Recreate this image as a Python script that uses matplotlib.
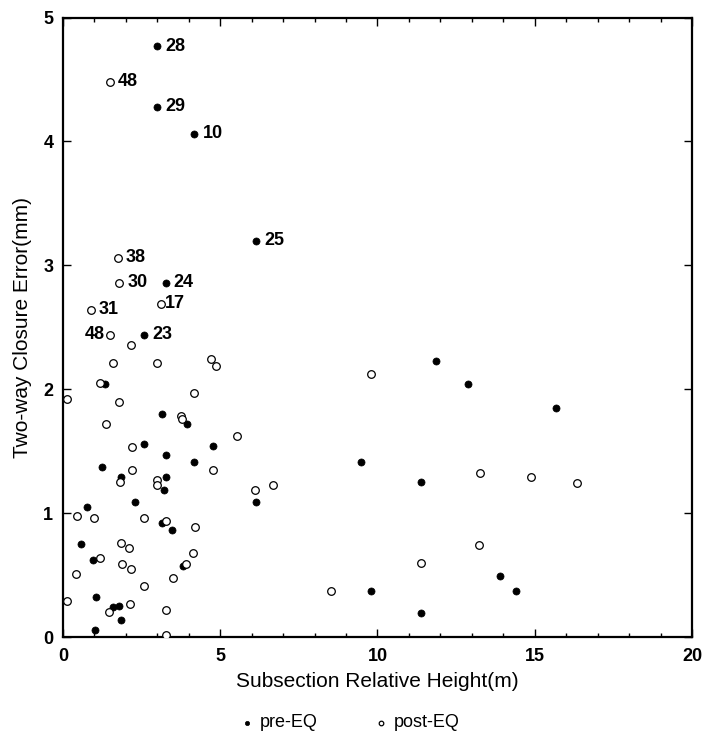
import numpy as np
import matplotlib.pyplot as plt
from matplotlib.ticker import MultipleLocator

plt.rcParams['font.family'] = ['Liberation Sans', 'DejaVu Sans']

# pre-earthquake survey subsections (filled)
pre_x = [2.98, 2.98, 4.17, 6.13, 3.26, 2.59,
         1.34, 3.14, 3.93, 2.58, 4.78, 3.28, 1.23, 4.17, 1.83, 3.28, 3.21,
         6.13, 2.30, 0.77, 3.14, 3.47, 0.56, 0.94, 3.83, 1.05, 1.60, 1.78,
         1.83, 1.02, 9.47, 9.78, 11.86, 12.89, 15.66, 11.38, 13.90, 14.39,
         11.38]
pre_y = [4.77, 4.28, 4.06, 3.20, 2.86, 2.44,
         2.04, 1.80, 1.72, 1.56, 1.54, 1.47, 1.37, 1.41, 1.29, 1.29, 1.19,
         1.09, 1.09, 1.05, 0.92, 0.86, 0.75, 0.62, 0.57, 0.32, 0.24, 0.25,
         0.14, 0.06, 1.41, 0.37, 2.23, 2.04, 1.85, 1.25, 0.49, 0.37, 0.19]

# post-earthquake survey subsections (open)
post_x = [1.49, 1.74, 1.79, 0.88, 3.12, 1.49, 2.15,
          1.60, 2.98, 4.71, 4.86, 1.18, 0.12, 4.17, 1.79, 3.76, 3.80, 1.37,
          5.54, 2.20, 2.20, 4.78, 1.81, 2.98, 3.00, 6.10, 6.69, 0.46, 0.99,
          2.59, 3.28, 4.21, 1.83, 2.10, 1.18, 1.89, 2.16, 4.14, 3.91, 0.41,
          3.51, 2.59, 8.51, 9.78, 0.14, 2.13, 1.45, 3.28, 3.28, 13.26, 14.88,
          16.34, 13.23, 11.37]
post_y = [4.48, 3.06, 2.86, 2.64, 2.69, 2.44, 2.36,
          2.21, 2.21, 2.24, 2.19, 2.05, 1.92, 1.97, 1.90, 1.78, 1.76, 1.72,
          1.62, 1.53, 1.35, 1.35, 1.25, 1.27, 1.23, 1.19, 1.23, 0.98, 0.96,
          0.96, 0.94, 0.89, 0.76, 0.72, 0.64, 0.59, 0.55, 0.68, 0.59, 0.51,
          0.48, 0.41, 0.37, 2.12, 0.29, 0.27, 0.20, 0.22, 0.015, 1.32, 1.29,
          1.24, 0.74, 0.60]

# labelled points: (label, x, y, side)
labels = [("28", 2.98, 4.77, "r"), ("48", 1.49, 4.48, "r"), ("29", 2.98, 4.28, "r"),
          ("10", 4.17, 4.06, "r"), ("25", 6.13, 3.20, "r"), ("38", 1.74, 3.06, "r"),
          ("30", 1.79, 2.86, "r"), ("24", 3.26, 2.86, "r"), ("31", 0.88, 2.64, "r"),
          ("17", 3.12, 2.69, "r2"), ("48", 1.49, 2.44, "l"), ("23", 2.59, 2.44, "r")]

fig = plt.figure(figsize=(7.06, 7.36), dpi=100)
ax = fig.add_axes([0.0892, 0.1345, 0.8910, 0.8417])

ax.scatter(pre_x, pre_y, s=26, c='black', edgecolors='black', linewidths=0.5,
           label='pre-EQ', zorder=3)
ax.scatter(post_x, post_y, s=30, facecolors='white', edgecolors='black',
           linewidths=0.9, label='post-EQ', zorder=3)

for txt, x, y, side in labels:
    if side == "r":
        off, ha = (6, 0), 'left'
    elif side == "r2":
        off, ha = (2.5, 0), 'left'
    else:
        off, ha = (-4, 0), 'right'
    ax.annotate(txt, (x, y), xytext=off, textcoords='offset points',
                ha=ha, va='center', fontsize=13, fontweight='bold')

ax.set_xlim(0, 20)
ax.set_ylim(0, 5)
ax.xaxis.set_major_locator(MultipleLocator(5))
ax.xaxis.set_minor_locator(MultipleLocator(1))
ax.yaxis.set_major_locator(MultipleLocator(1))
ax.tick_params(which='both', direction='in', top=True, right=True,
               labelsize=13, width=1)
ax.tick_params(which='major', length=6)
ax.tick_params(which='minor', length=3)
ax.tick_params(axis='x', which='major', pad=8)
ax.tick_params(axis='y', which='major', pad=7)
for lab in ax.get_xticklabels() + ax.get_yticklabels():
    lab.set_fontweight('bold')
for sp in ax.spines.values():
    sp.set_linewidth(1.6)

ax.set_xlabel('Subsection Relative Height(m)', fontsize=15, labelpad=5)
ax.set_ylabel('Two-way Closure Error(mm)', fontsize=15, labelpad=8)

fig.legend(loc='center', bbox_to_anchor=(0.497, 0.018), ncol=2, frameon=False,
           fontsize=13, handlelength=0.6, handletextpad=0.4, columnspacing=3.2,
           markerscale=0.6)

plt.savefig('out.png', dpi=100)
